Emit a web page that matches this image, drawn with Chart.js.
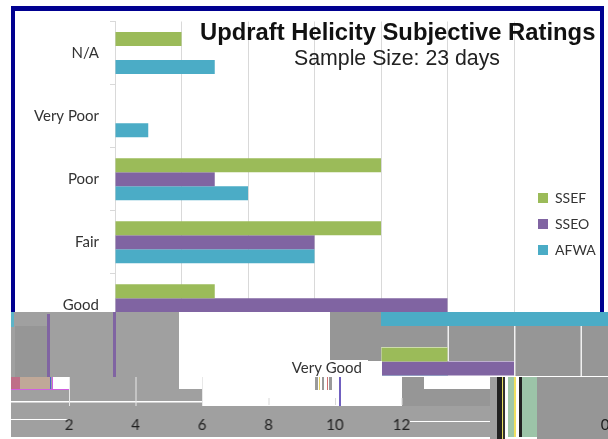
<!DOCTYPE html>
<html><head><meta charset="utf-8">
<style>
html,body{margin:0;padding:0;background:#fff;width:608px;height:439px;overflow:hidden}
#wrap{position:relative;width:608px;height:439px}
canvas{position:absolute;left:0;top:0}
.t{position:absolute;white-space:nowrap;font-family:"Liberation Sans",Arial,sans-serif;color:#111}
#t1{left:200px;top:18px;font-size:23.8px;font-weight:bold}
#t2{left:294px;top:46px;font-size:21.3px;color:#222}
</style>
<script src="https://cdn.jsdelivr.net/npm/chart.js@4/dist/chart.umd.min.js"></script>
</head><body>
<div id="wrap"><canvas id="c" width="608" height="439"></canvas>
<div class="t" id="t1">Updraft Helicity Subjective Ratings</div>
<div class="t" id="t2">Sample Size: 23 days</div></div>
<script>
const categories=["N/A","Very Poor","Poor","Fair","Good","Very Good"];
const seriesNames=["SSEF","SSEO","AFWA"];
const SSEF=[2,0,8,8,3,2];
const SSEO=[0,0,3,6,10,4];
const AFWA=[3,1,4,6,7,2];
const seriesColors=["#9BBB59","#8064A2","#4BACC6"];
const xTicks=[0,2,4,6,8,10,12];

const GRAY="#a0a0a0", GRAY2="#969696";
const corrupt={id:"corrupt",
  beforeDraw(ch){const g=ch.ctx;g.save();g.fillStyle="#fff";g.fillRect(0,0,608,439);
    g.fillStyle="#000090";g.fillRect(11,6,593,5);g.fillRect(11,6,4,306);g.fillRect(600,6,4,306);g.restore();},
  afterLayout(ch){const l=ch.legend;l.left=526;l.right=604;l.top=179;l.bottom=380;},
  afterDraw(ch){
    const g=ch.ctx,x=ch.scales.x;
    const snap=document.createElement("canvas");snap.width=608;snap.height=439;
    snap.getContext("2d").drawImage(ch.canvas,0,0);
    const R=(c,a,b,w,h)=>{g.fillStyle=c;g.fillRect(a,b,w,h);};
    const SH=x.getPixelForValue(8)-x.getPixelForValue(0);
    g.save();
    R("#fff",0,312,608,127);
    // grey blocks
    R(GRAY,11,312,168,78);
    R(GRAY2,15,326,32,51);
    R(GRAY,11,389,191,17);
    R(GRAY,11,406,479,31);
    R(GRAY2,330,312,52,49);
    R(GRAY2,382,312,226,64);
    R(GRAY2,402,377,22,29);
    R(GRAY2,402,389,88,17);
    R(GRAY2,537,377,71,62);
    // artefact strips
    R("#5cb4c8",11,312,3,15);
    R("#8064A2",47,314,3,63);
    R("#8064A2",113,312,3,65);
    R("#bf6f88",11,377,9,12);
    R("#c0a898",20,377,30,12);
    R("#5060d0",50,377,1,12);
    R("#fff",53,377,16,12);
    R("#d060e0",52,377,1,12);
    R("#d060e0",11,389,58,1);
    R(GRAY,71,377,64,13);
    R("#fff",179,312,151,49);
    // bands and gridlines shifted with the plot
    R("#fff",11,401,191,1.5);
    R("#fff",202,390,198,15);
    R("#fff",11,419,60,1);
    R("#fff",410,421,80,1);
    R("#fff",11,437,479,2);
    [2,4,6].forEach(v=>{R("#e8e8e8",x.getPixelForValue(v)-112.5,377,1,29);});
    [8,10,12].forEach(v=>{R("#d8d8d8",x.getPixelForValue(v)-112.5,398,1,7);});
    [2,4,6].forEach(v=>{R("#f0f0f0",x.getPixelForValue(v)+SH,326,1.5,50);});
    // shifted rows of the plot
    const bL=x.getPixelForValue(0);
    g.drawImage(snap,bL,312,341-bL,14,bL+SH,312,341-bL,14);
    R("#4BACC6",bL+SH,312,608-bL-SH,14);
    g.drawImage(snap,bL,347,x.getPixelForValue(2)-bL,14,bL+SH,347,x.getPixelForValue(2)-bL,14);
    g.drawImage(snap,bL,361,x.getPixelForValue(4)-bL,15,bL+SH,361,x.getPixelForValue(4)-bL,15);
    // Very Good label moved with its row
    R("#fff",283,361,99,15);
    g.drawImage(snap,20,360,85,17,283,360,85,17);
    R("#9a9a9a",315,377,3,13);R("#e6d060",319,377,1,13);R("#9a9a9a",322,377,2,13);R("#d07070",327,377,1,13);R("#9a9a9a",329,377,3,13);
    R("#7060c0",339,377,2,29);
    // right-hand stripes
    R(GRAY,490,377,7,62);R("#222",497,377,5,62);R("#e8e060",502,377,1,62);R("#333",503,377,2,62);
    R("#fff",505,377,3,60);R("#a0c8a8",508,377,6,60);R("#f0e060",514,377,2,60);R("#fff",516,377,3,60);R("#222",519,377,3,60);R("#9cc4a8",522,377,15,60);
    // tick labels, displaced along the band
    g.globalCompositeOperation="multiply";
    g.drawImage(snap,150,412,390,25,37.5,412,390,25);
    g.drawImage(snap,106,412,18,25,596,412,18,25);
    g.restore();
  }};

new Chart(document.getElementById("c"),{
  type:"bar",
  data:{labels:categories,datasets:[
    {label:seriesNames[0],data:SSEF,backgroundColor:seriesColors[0]},
    {label:seriesNames[1],data:SSEO,backgroundColor:seriesColors[1]},
    {label:seriesNames[2],data:AFWA,backgroundColor:seriesColors[2]}]},
  options:{indexAxis:"y",responsive:false,animation:false,devicePixelRatio:1,
    layout:{padding:{top:21.5,right:94,left:0,bottom:0}},
    datasets:{bar:{barPercentage:1,categoryPercentage:0.667}},
    plugins:{title:{display:false},tooltip:{enabled:false},
      legend:{position:"chartArea",align:"start",
        labels:{boxWidth:10,boxHeight:10,padding:12,color:"#333",font:{family:"Lato",size:14}}}},
    scales:{
      x:{min:0,max:12,afterFit(s){s.height=39;},
        afterBuildTicks(s){s.ticks=xTicks.map(v=>({value:v}));},
        grid:{color:"#d9d9d9",tickLength:5,lineWidth:1},border:{color:"#d9d9d9"},
        ticks:{color:"#333",padding:11,maxRotation:0,font:{family:"Lato",size:15}}},
      y:{afterFit(s){s.width=115;},
        grid:{drawOnChartArea:false,color:"#d9d9d9",tickLength:5},border:{color:"#d9d9d9"},
        ticks:{color:"#333",padding:11,font:{family:"Lato",size:15}}}
    }},
  plugins:[corrupt]});
</script></body></html>
